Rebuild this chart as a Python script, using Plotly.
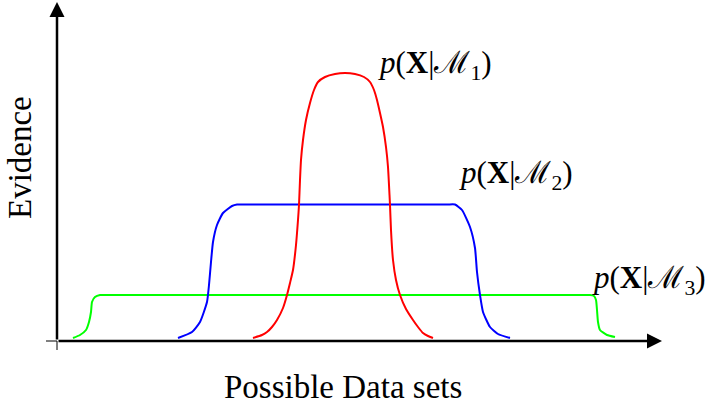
import plotly.graph_objects as go

# Data (x: data-set axis units, y: evidence units; origin at axis crossing)
green_x = [16, 23, 29, 32, 34, 35, 38, 43, 50, 526, 533, 537, 539, 540, 541, 543, 550, 558]
green_y = [3, 6, 11, 19, 29, 39, 44, 46, 46, 46, 46, 45, 41, 31, 19, 11, 6, 4]

blue_x = [121, 135, 143, 150, 152, 154, 156, 160, 166, 175, 180, 188, 390, 398, 405, 413, 418, 420, 423, 426, 433, 441, 453]
blue_y = [3, 9, 19, 39, 56, 79, 99, 116, 128, 135, 136.5, 136.5, 136.5, 136.5, 131, 114, 93, 69, 46, 29, 14, 7, 3]

red_x = [196, 205, 210, 215, 220, 226, 230, 233, 236, 239, 241, 242, 243, 244, 246, 249, 253, 257, 261,
         268, 278, 288, 298, 307, 313, 317, 320, 323, 326, 329, 331, 332, 333, 334, 336, 339, 343, 349,
         356, 361, 366, 371, 376]
red_y = [3, 6, 9, 14, 21, 33, 46, 58, 71, 96, 121, 136, 161, 181, 201, 221, 238, 251, 259,
         264, 267, 268, 267, 264, 259, 251, 241, 228, 214, 194, 174, 156, 136, 111, 81, 61, 46, 32,
         21, 14, 8, 5, 3]

labels = ["<i>p</i>(<b>X</b>|ℳ<sub>1</sub>)",
          "<i>p</i>(<b>X</b>|ℳ<sub>2</sub>)",
          "<i>p</i>(<b>X</b>|ℳ<sub>3</sub>)"]
label_x = [319, 400, 533]
label_y = [276, 166, 61]

x_title = "Possible Data sets"
y_title = "Evidence"

FONT = "Liberation Serif"

fig = go.Figure()
for xs, ys, col in [(green_x, green_y, "#00ff00"), (blue_x, blue_y, "#0000ff"), (red_x, red_y, "#ff0000")]:
    fig.add_trace(go.Scatter(x=xs, y=ys, mode="lines",
                             line=dict(color=col, width=2, shape="spline", smoothing=0.5),
                             hoverinfo="skip", showlegend=False))

# thin extensions at origin
fig.add_shape(type="line", x0=-11, y0=0, x1=0, y1=0, line=dict(color="black", width=1))
fig.add_shape(type="line", x0=0, y0=-9, x1=0, y1=0, line=dict(color="black", width=1))

# arrows (axes)
fig.add_annotation(x=605, y=0, ax=0, ay=0, axref="x", ayref="y", xref="x", yref="y",
                   showarrow=True, arrowhead=2, arrowsize=1.2, arrowwidth=2.5, arrowcolor="black",
                   standoff=0, text="")
fig.add_annotation(x=0, y=339, ax=0, ay=0, axref="x", ayref="y", xref="x", yref="y",
                   showarrow=True, arrowhead=2, arrowsize=1.2, arrowwidth=2.5, arrowcolor="black",
                   standoff=0, text="")

for t, lx, ly in zip(labels, label_x, label_y):
    fig.add_annotation(x=lx, y=ly, text=t, showarrow=False, xanchor="left", yanchor="middle",
                       font=dict(family=FONT, size=31, color="black"))

fig.add_annotation(x=286, y=-46, text=x_title, showarrow=False, xanchor="center", yanchor="middle",
                   font=dict(family=FONT, size=33, color="black"))
fig.add_annotation(x=-37, y=183, text=y_title, showarrow=False, xanchor="center", yanchor="middle",
                   textangle=-90, font=dict(family=FONT, size=33, color="black"))

fig.update_layout(width=719, height=408, margin=dict(l=0, r=0, t=0, b=0),
                  paper_bgcolor="white", plot_bgcolor="white",
                  xaxis=dict(range=[-57, 662], visible=False, fixedrange=True),
                  yaxis=dict(range=[-67, 341], visible=False, fixedrange=True))

fig.write_html("out.html", config={"displayModeBar": False},
               post_script="document.body.style.margin='0';document.body.style.overflow='hidden';")
